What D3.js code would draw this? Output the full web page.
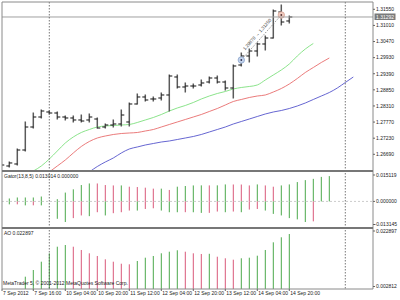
<!DOCTYPE html>
<html><head><meta charset="utf-8">
<script src="https://cdn.jsdelivr.net/npm/d3@7"></script>
<style>body{margin:0;background:#fff}svg{display:block}text{font-family:"Liberation Sans",Arial,sans-serif}</style>
</head><body><svg id="c" width="400" height="300"></svg>
<script>
// ---- data (slot index k runs from -1 to 43; H4 bars) ----
const firstSlot = -1;
const open  = [1.26298,1.26298,1.26365,1.26834,1.27605,1.27940,1.28108,1.28074,1.27940,1.27907,1.27840,1.27840,1.27873,1.27605,1.27672,1.27706,1.27773,1.28376,1.28611,1.28544,1.28577,1.28678,1.29281,1.28946,1.28979,1.29013,1.29113,1.29247,1.29113,1.28912,1.29683,1.29985,1.30152,1.30387,1.30588,1.31459,1.31158];
const high  = [1.26399,1.26432,1.26868,1.27773,1.28074,1.28175,1.28141,1.28108,1.27974,1.27974,1.28007,1.28041,1.27907,1.27706,1.27840,1.28175,1.28409,1.28711,1.28678,1.28611,1.28745,1.29348,1.29348,1.29080,1.29046,1.29180,1.29281,1.29314,1.29147,1.29683,1.30085,1.30219,1.30420,1.30655,1.31527,1.31694,1.31325];
const low   = [1.26264,1.26264,1.26331,1.26801,1.27571,1.27907,1.28041,1.27873,1.27840,1.27773,1.27773,1.27773,1.27571,1.27571,1.27605,1.27639,1.27639,1.28376,1.28476,1.28476,1.28510,1.28141,1.28912,1.28778,1.28912,1.28979,1.29080,1.29080,1.28845,1.28577,1.29650,1.29784,1.29985,1.30186,1.30588,1.31024,1.31091];
const close = [1.26331,1.26399,1.26834,1.27605,1.27940,1.28141,1.28074,1.27940,1.27907,1.27840,1.27806,1.27940,1.27571,1.27672,1.27706,1.28007,1.28376,1.28611,1.28510,1.28544,1.28678,1.29314,1.28946,1.28979,1.28979,1.29080,1.29247,1.29113,1.28912,1.29650,1.29985,1.30152,1.30387,1.30588,1.31493,1.31124,1.31292];
const lips  = [null,null,null,null,1.26130,1.26298,1.26532,1.26801,1.27069,1.27270,1.27421,1.27521,1.27605,1.27639,1.27655,1.27672,1.27689,1.27756,1.27840,1.27923,1.28024,1.28141,1.28242,1.28326,1.28426,1.28544,1.28644,1.28728,1.28795,1.28879,1.28929,1.28963,1.29013,1.29180,1.29348,1.29516,1.29717,1.29985,1.30219,1.30404,null,null,null,null,null];
const teeth = [null,null,null,null,null,null,1.26097,1.26298,1.26499,1.26734,1.26952,1.27119,1.27236,1.27303,1.27354,1.27387,1.27404,1.27421,1.27471,1.27521,1.27605,1.27689,1.27773,1.27856,1.27940,1.28024,1.28125,1.28225,1.28342,1.28460,1.28527,1.28594,1.28644,1.28678,1.28778,1.28895,1.29046,1.29231,1.29432,1.29599,1.29767,1.29918,null,null,null];
const jaw   = [null,null,null,null,null,null,null,null,null,null,null,1.26097,1.26281,1.26432,1.26566,1.26734,1.26868,1.26935,1.27002,1.27052,1.27102,1.27136,1.27186,1.27236,1.27287,1.27354,1.27437,1.27521,1.27605,1.27706,1.27789,1.27873,1.27957,1.28041,1.28108,1.28158,1.28225,1.28309,1.28409,1.28527,1.28644,1.28761,1.28912,1.29097,1.29281];
const gatorUp   = [null,0.00151,0.00202,0.00202,0.00202,0.00252,0,0.00116,0.00454,0.00621,0.00842,0.00924,0.00922,0.00842,0.00822,0.00822,0.00757,0.00740,0.00706,0.00656,0.00656,0.00590,0.00757,0.00792,0.00822,0.00825,0.00823,0.00826,0.00873,0.00870,0.00868,0.00822,0.00873,0.00822,0.00757,0.00822,0.00873,0.00994,0.01095,0.01160,0.01261,0.013014,null,null,null];
const gatorDown = [null,0.00151,0.00150,0.00202,0.00200,0.00204,0,0.00893,0.01059,0.00858,0.00721,0.00757,0.00555,0.00721,0.00605,0.00555,0.00469,0.00470,0.00388,0.00353,0.00469,0.00555,0.00556,0.00554,0.00557,0.00590,0.00588,0.00520,0.00555,0.00520,0.00555,0.00419,0.00388,0.00469,0.00641,0.00721,0.00858,0.00923,0.01059,0.01024,null,null,null,null,null];
const ao = [null,null,null,0.00693,0.00917,0.01195,0.01476,0.01697,0.01754,0.01697,0.01587,0.01476,0.01386,0.01275,0.01195,0.01128,0.01108,0.01218,0.01329,0.01386,0.01476,0.01530,0.01577,0.01530,0.01476,0.01453,0.01460,0.01362,0.01309,0.01262,0.01309,0.01329,0.01396,0.01587,0.01844,0.02012,0.02122];
const priceTicks = [1.31550,1.31010,1.30470,1.29930,1.29390,1.28850,1.28310,1.27770,1.27230,1.26690];
const timeLabels = ["7 Sep 2012","7 Sep 16:00","10 Sep 04:00","10 Sep 20:00","11 Sep 12:00","12 Sep 04:00","12 Sep 20:00","13 Sep 12:00","14 Sep 04:00","14 Sep 20:00"];
const timeSlots  = [-1,3,7,11,15,19,23,27,31,35];
const separatorSlots = [5,42];
const bidPrice = 1.31292;
const gatorRange = [-0.013145,0.015119];
const aoRange = [0.002812,0.022897];
const trade = {openSlot:29, openPrice:1.29851, closeSlot:34, closePrice:1.31359, text:"1.29870 → 1.31250"};
const gatorTitle = "Gator(13,8,5) 0.013014 0.000000";
const aoTitle = "AO 0.022897";
const copyright = "MetaTrader 5, © 2001-2012 MetaQuotes Software Corp.";

// ---- layout ----
const L=2, R=373, mainTop=2, mainBot=170, gTop=172, gBot=227, aTop=229, aBot=289;
const GREEN="#4aa84a", RED="#d9587a";
const svg=d3.select('#c');
const x=d3.scaleLinear().domain([0,43]).range([9.3,353.3]);
const yP=d3.scaleLinear().domain([priceTicks[9],priceTicks[0]]).range([154.3,9.3]);
const yG=d3.scaleLinear().domain(gatorRange).range([gBot,gTop]);
const yA=d3.scaleLinear().domain(aoRange).range([aBot,aTop]);
const defs=svg.append('defs');
[['cm',mainTop,mainBot],['cg',gTop,gBot],['ca',aTop,aBot]].forEach(([id,t,b])=>{
  defs.append('clipPath').attr('id',id).append('rect').attr('x',L).attr('y',t).attr('width',R-L).attr('height',b-t);
});
const slot=i=>i+firstSlot;

// main panel
const gm=svg.append('g').attr('clip-path','url(#cm)');
const lineGen=arr=>d3.line().defined(d=>d!=null).x((d,i)=>x(slot(i))).y(d=>yP(d)).curve(d3.curveMonotoneX)(arr);
[[jaw,"#5555cc"],[teeth,"#e86c6c"],[lips,"#7ee07e"]].forEach(([a,c])=>{
  gm.append('path').attr('d',lineGen(a)).attr('fill','none').attr('stroke',c).attr('stroke-width',0.9);
});
// bid line
svg.append('line').attr('x1',L).attr('x2',R).attr('y1',yP(bidPrice)).attr('y2',yP(bidPrice)).attr('stroke','#a0a0a0').attr('stroke-width',1);
const bars=gm.selectAll('g.bar').data(open.map((o,i)=>({k:slot(i),o,h:high[i],l:low[i],c:close[i]}))).join('g');
bars.append('line').attr('x1',d=>x(d.k)).attr('x2',d=>x(d.k)).attr('y1',d=>yP(d.h)-0.5).attr('y2',d=>yP(d.l)+0.5).attr('stroke','#5a5a5a').attr('stroke-width',1.5);
bars.append('line').attr('x1',d=>x(d.k)-3).attr('x2',d=>x(d.k)).attr('y1',d=>yP(d.o)).attr('y2',d=>yP(d.o)).attr('stroke','#111').attr('stroke-width',1);
bars.append('line').attr('x1',d=>x(d.k)).attr('x2',d=>x(d.k)+3).attr('y1',d=>yP(d.c)).attr('y2',d=>yP(d.c)).attr('stroke','#111').attr('stroke-width',1);
// trade
const tx1=x(trade.openSlot),ty1=yP(trade.openPrice),tx2=x(trade.closeSlot),ty2=yP(trade.closePrice);
gm.append('line').attr('x1',tx1).attr('y1',ty1).attr('x2',tx2).attr('y2',ty2).attr('stroke','#666').attr('stroke-dasharray','1.5,1.5').attr('stroke-width',0.7);
const ang=Math.atan2(ty2-ty1,tx2-tx1)*180/Math.PI;
gm.append('text').attr('transform',`translate(${(tx1+tx2)/2-3},${(ty1+ty2)/2-2}) rotate(${ang})`).attr('text-anchor','middle').attr('font-size',4.6).attr('fill','#444').text(trade.text);
gm.append('circle').attr('cx',tx1).attr('cy',ty1).attr('r',3.2).attr('fill','#c4d4ec').attr('stroke','#8aa3cc').attr('stroke-width',0.8);
gm.append('circle').attr('cx',tx1).attr('cy',ty1).attr('r',0.9).attr('fill','#335');
gm.append('circle').attr('cx',tx2).attr('cy',ty2).attr('r',3.2).attr('fill','#f0cbc0').attr('stroke','#d8a596').attr('stroke-width',0.8);
gm.append('circle').attr('cx',tx2).attr('cy',ty2).attr('r',0.9).attr('fill','#533');

// gator panel
const gg=svg.append('g').attr('clip-path','url(#cg)');
gg.append('line').attr('x1',L).attr('x2',R).attr('y1',yG(0)).attr('y2',yG(0)).attr('stroke','#cccccc').attr('stroke-dasharray','2,2');
const colorOf=(arr,i)=> (i>0 && arr[i-1]!=null && arr[i]<arr[i-1]) ? RED : GREEN;
gatorUp.forEach((v,i)=>{ if(v){ gg.append('line').attr('x1',x(slot(i))).attr('x2',x(slot(i))).attr('y1',yG(0)).attr('y2',yG(v)).attr('stroke',colorOf(gatorUp,i)).attr('stroke-width',1);} });
gatorDown.forEach((v,i)=>{ if(v){ gg.append('line').attr('x1',x(slot(i))).attr('x2',x(slot(i))).attr('y1',yG(0)).attr('y2',yG(-v)).attr('stroke',colorOf(gatorDown,i)).attr('stroke-width',1);} });

// AO panel
const ga=svg.append('g').attr('clip-path','url(#ca)');
ao.forEach((v,i)=>{ if(v!=null){ ga.append('line').attr('x1',x(slot(i))).attr('x2',x(slot(i))).attr('y1',aBot).attr('y2',yA(v)).attr('stroke',colorOf(ao,i)).attr('stroke-width',1);} });

// separators (dashed vertical)
separatorSlots.forEach(k=>{
  svg.append('line').attr('x1',x(k)).attr('x2',x(k)).attr('y1',mainTop).attr('y2',aBot).attr('stroke','#555').attr('stroke-width',0.8).attr('stroke-dasharray','1.5,1.5');
});

// frame
const fr=svg.append('g').attr('stroke','#8a8a8a').attr('fill','none');
fr.append('line').attr('x1',L).attr('x2',R).attr('y1',mainTop).attr('y2',mainTop);
fr.append('line').attr('x1',L).attr('x2',L).attr('y1',mainTop).attr('y2',aBot);
fr.append('line').attr('x1',R).attr('x2',R).attr('y1',mainTop).attr('y2',aBot);
fr.append('line').attr('x1',L).attr('x2',R).attr('y1',aBot).attr('y2',aBot);
[171,228].forEach(y=>fr.append('line').attr('x1',L).attr('x2',R).attr('y1',y).attr('y2',y).attr('stroke','#777').attr('stroke-width',2));

// right axis
const fs=5;
const ax=svg.append('g').attr('font-size',fs).attr('fill','#222');
priceTicks.forEach(p=>{
  ax.append('line').attr('x1',R).attr('x2',R+2).attr('y1',yP(p)).attr('y2',yP(p)).attr('stroke','#666');
  ax.append('text').attr('x',R+3).attr('y',yP(p)+1.8).text(p.toFixed(5));
});
ax.append('rect').attr('x',R+1.5).attr('y',yP(bidPrice)-3.5).attr('width',21).attr('height',6.5).attr('fill','#7a7a7a');
ax.append('text').attr('x',R+3).attr('y',yP(bidPrice)+1.8).attr('fill','#fff').text(bidPrice.toFixed(5));
const gl=[[gatorRange[1],gTop+3],[0,yG(0)],[gatorRange[0],gBot-2.5]];
gl.forEach(([v,y])=>{ax.append('line').attr('x1',R).attr('x2',R+2).attr('y1',y).attr('y2',y).attr('stroke','#666');ax.append('text').attr('x',v<0?R+1.5:R+3).attr('y',y+1.8).text(v.toFixed(6));});
[[aoRange[1],aTop+2],[aoRange[0],aBot-2.5]].forEach(([v,y])=>{ax.append('line').attr('x1',R).attr('x2',R+2).attr('y1',y).attr('y2',y).attr('stroke','#666');ax.append('text').attr('x',R+3).attr('y',y+1.8).text(v.toFixed(6));});

// time axis
timeLabels.forEach((t,i)=>{
  const xx = i===0 ? L : x(timeSlots[i]);
  ax.append('line').attr('x1',xx).attr('x2',xx).attr('y1',aBot).attr('y2',aBot+2).attr('stroke','#666');
  ax.append('text').attr('x',xx+1).attr('y',aBot+6).text(t);
});

// titles
ax.append('text').attr('x',L+2).attr('y',gTop+5.5).text(gatorTitle);
ax.append('text').attr('x',L+2).attr('y',aTop+5.5).text(aoTitle);
ax.append('text').attr('x',L+1).attr('y',aBot-4).text(copyright);
</script></body></html>
